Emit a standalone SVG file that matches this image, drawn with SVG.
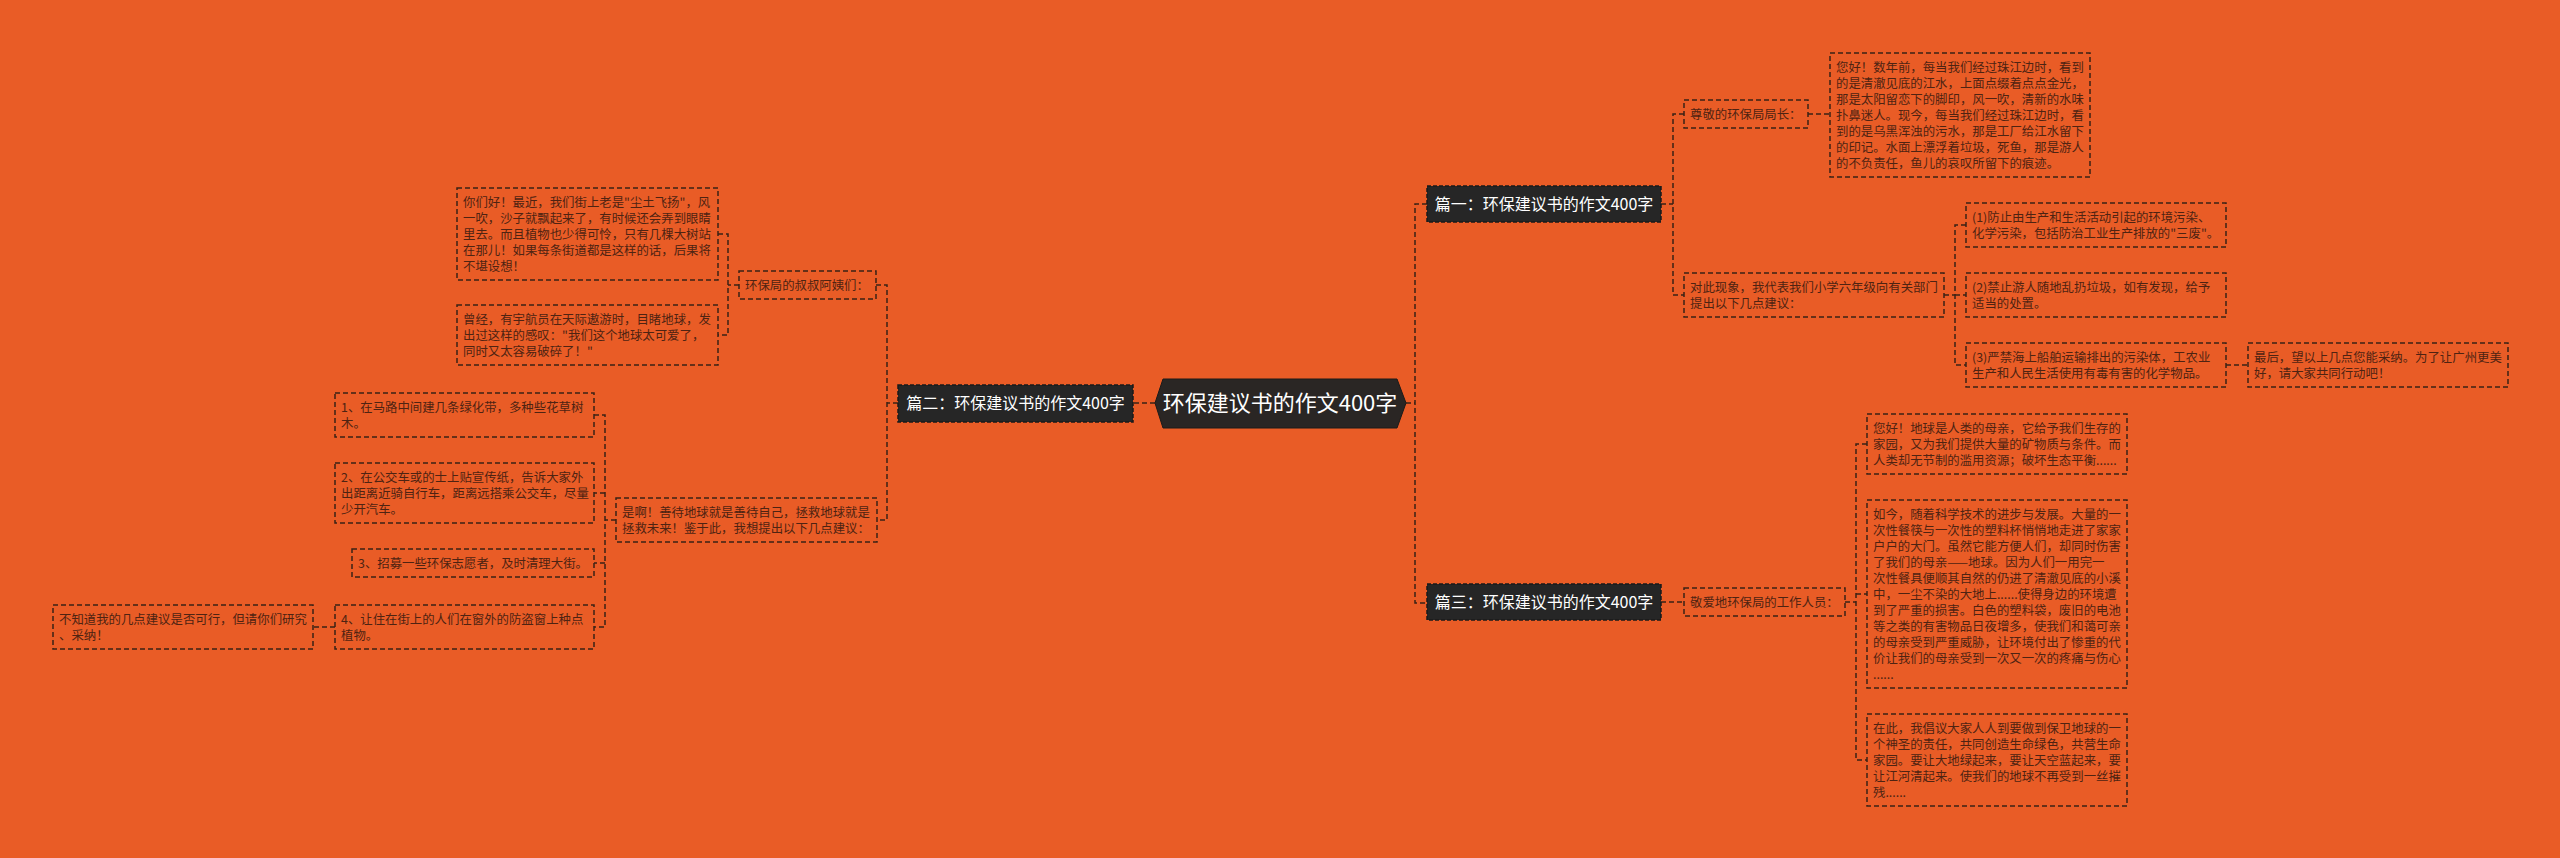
<svg xmlns="http://www.w3.org/2000/svg" width="2560" height="858" viewBox="0 0 2560 858">
<style>
.bg{fill:#E95C26}
.conn{fill:none;stroke:#3a2216;stroke-width:1.5;stroke-dasharray:5 3}
.leaf{fill:none;stroke:#3a2216;stroke-width:1.5;stroke-dasharray:5 3}
.lt{font-family:"Noto Sans CJK SC","Noto Sans",sans-serif;font-size:12.4px;fill:#4e2312}
.br{fill:#262626;stroke:#1a1a1a;stroke-width:1.5;stroke-dasharray:4 2}
.bt{font-family:"Noto Sans CJK SC","Noto Sans",sans-serif;font-size:16px;fill:#ffffff;text-anchor:middle}
.ct{font-family:"Noto Sans CJK SC","Noto Sans",sans-serif;font-size:22px;fill:#ffffff;text-anchor:middle}
</style>
<rect class="bg" x="0" y="0" width="2560" height="858"/>
<g id="connectors">
<path class="conn" d="M1155,403 H1133"/>
<path class="conn" d="M1406,403 H1415"/>
<path class="conn" d="M1427,204 H1415 V603 H1427"/>
<path class="conn" d="M1661,204 H1673"/>
<path class="conn" d="M1684,114 H1673 V295 H1684"/>
<path class="conn" d="M1808,114 H1830"/>
<path class="conn" d="M1944,295 H1955"/>
<path class="conn" d="M1966,225 H1955 V365 H1966"/>
<path class="conn" d="M1955,295 H1966"/>
<path class="conn" d="M2226,365 H2248"/>
<path class="conn" d="M1661,602 H1684"/>
<path class="conn" d="M1845,602 H1856"/>
<path class="conn" d="M1867,444 H1856 V760 H1867"/>
<path class="conn" d="M1856,594 H1867"/>
<path class="conn" d="M898,403 H887"/>
<path class="conn" d="M876,285 H887 V520 H877"/>
<path class="conn" d="M739,285 H728"/>
<path class="conn" d="M718,234 H728 V335 H718"/>
<path class="conn" d="M616,520 H605"/>
<path class="conn" d="M594,415 H605 V627 H594"/>
<path class="conn" d="M605,493 H594"/>
<path class="conn" d="M605,563 H594"/>
<path class="conn" d="M335,627 H313"/>
</g>
<g id="center">
<polygon points="1155,403 1163,379 1397,379 1406,403 1397,428 1163,428" fill="#2a2624" stroke="#1c1a19" stroke-width="1"/>
<text class="ct" x="1280" y="411">环保建议书的作文400字</text>
</g>
<g id="p1">
<rect class="br" x="1427" y="186" width="234" height="36"/>
<text class="bt" x="1544" y="210">篇一：环保建议书的作文400字</text>
</g>
<g id="p2">
<rect class="br" x="898" y="385" width="235" height="37"/>
<text class="bt" x="1015.5" y="409">篇二：环保建议书的作文400字</text>
</g>
<g id="p3">
<rect class="br" x="1427" y="584" width="234" height="36"/>
<text class="bt" x="1544" y="608">篇三：环保建议书的作文400字</text>
</g>
<g id="r1">
<rect class="leaf" x="1684" y="100" width="124" height="28"/>
<text class="lt" x="1690" y="119">尊敬的环保局局长：</text>
</g>
<g id="r2">
<rect class="leaf" x="1830" y="53" width="260" height="124"/>
<text class="lt" x="1836" y="72">您好！数年前，每当我们经过珠江边时，看到</text>
<text class="lt" x="1836" y="88">的是清澈见底的江水，上面点缀着点点金光，</text>
<text class="lt" x="1836" y="104">那是太阳留恋下的脚印，风一吹，清新的水味</text>
<text class="lt" x="1836" y="120">扑鼻迷人。现今，每当我们经过珠江边时，看</text>
<text class="lt" x="1836" y="136">到的是乌黑浑浊的污水，那是工厂给江水留下</text>
<text class="lt" x="1836" y="152">的印记。水面上漂浮着垃圾，死鱼，那是游人</text>
<text class="lt" x="1836" y="168">的不负责任，鱼儿的哀叹所留下的痕迹。</text>
</g>
<g id="r3">
<rect class="leaf" x="1684" y="273" width="260" height="44"/>
<text class="lt" x="1690" y="292">对此现象，我代表我们小学六年级向有关部门</text>
<text class="lt" x="1690" y="308">提出以下几点建议：</text>
</g>
<g id="r4">
<rect class="leaf" x="1966" y="203" width="260" height="44"/>
<text class="lt" x="1972" y="222">(1)防止由生产和生活活动引起的环境污染、</text>
<text class="lt" x="1972" y="238">化学污染，包括防治工业生产排放的"三废"。</text>
</g>
<g id="r5">
<rect class="leaf" x="1966" y="273" width="260" height="44"/>
<text class="lt" x="1972" y="292">(2)禁止游人随地乱扔垃圾，如有发现，给予</text>
<text class="lt" x="1972" y="308">适当的处置。</text>
</g>
<g id="r6">
<rect class="leaf" x="1966" y="343" width="260" height="44"/>
<text class="lt" x="1972" y="362">(3)严禁海上船舶运输排出的污染体，工农业</text>
<text class="lt" x="1972" y="378">生产和人民生活使用有毒有害的化学物品。</text>
</g>
<g id="r7">
<rect class="leaf" x="2248" y="343" width="260" height="44"/>
<text class="lt" x="2254" y="362">最后，望以上几点您能采纳。为了让广州更美</text>
<text class="lt" x="2254" y="378">好，请大家共同行动吧！</text>
</g>
<g id="r8">
<rect class="leaf" x="1684" y="588" width="161" height="28"/>
<text class="lt" x="1690" y="607">敬爱地环保局的工作人员：</text>
</g>
<g id="r9">
<rect class="leaf" x="1867" y="414" width="260" height="60"/>
<text class="lt" x="1873" y="433">您好！地球是人类的母亲，它给予我们生存的</text>
<text class="lt" x="1873" y="449">家园，又为我们提供大量的矿物质与条件。而</text>
<text class="lt" x="1873" y="465">人类却无节制的滥用资源；破坏生态平衡......</text>
</g>
<g id="r10">
<rect class="leaf" x="1867" y="500" width="260" height="188"/>
<text class="lt" x="1873" y="519">如今，随着科学技术的进步与发展。大量的一</text>
<text class="lt" x="1873" y="535">次性餐筷与一次性的塑料杯悄悄地走进了家家</text>
<text class="lt" x="1873" y="551">户户的大门。虽然它能方便人们，却同时伤害</text>
<text class="lt" x="1873" y="567">了我们的母亲——地球。因为人们一用完一</text>
<text class="lt" x="1873" y="583">次性餐具便顺其自然的仍进了清澈见底的小溪</text>
<text class="lt" x="1873" y="599">中，一尘不染的大地上......使得身边的环境遭</text>
<text class="lt" x="1873" y="615">到了严重的损害。白色的塑料袋，废旧的电池</text>
<text class="lt" x="1873" y="631">等之类的有害物品日夜增多，使我们和蔼可亲</text>
<text class="lt" x="1873" y="647">的母亲受到严重威胁，让环境付出了惨重的代</text>
<text class="lt" x="1873" y="663">价让我们的母亲受到一次又一次的疼痛与伤心</text>
<text class="lt" x="1873" y="679">......</text>
</g>
<g id="r11">
<rect class="leaf" x="1867" y="714" width="260" height="92"/>
<text class="lt" x="1873" y="733">在此，我倡议大家人人到要做到保卫地球的一</text>
<text class="lt" x="1873" y="749">个神圣的责任，共同创造生命绿色，共营生命</text>
<text class="lt" x="1873" y="765">家园。要让大地绿起来，要让天空蓝起来，要</text>
<text class="lt" x="1873" y="781">让江河清起来。使我们的地球不再受到一丝摧</text>
<text class="lt" x="1873" y="797">残......</text>
</g>
<g id="l1">
<rect class="leaf" x="739" y="271" width="137" height="28"/>
<text class="lt" x="745" y="290">环保局的叔叔阿姨们：</text>
</g>
<g id="l2">
<rect class="leaf" x="457" y="188" width="261" height="92"/>
<text class="lt" x="463" y="207">你们好！最近，我们街上老是"尘土飞扬"，风</text>
<text class="lt" x="463" y="223">一吹，沙子就飘起来了，有时候还会弄到眼睛</text>
<text class="lt" x="463" y="239">里去。而且植物也少得可怜，只有几棵大树站</text>
<text class="lt" x="463" y="255">在那儿！如果每条街道都是这样的话，后果将</text>
<text class="lt" x="463" y="271">不堪设想！</text>
</g>
<g id="l3">
<rect class="leaf" x="457" y="305" width="261" height="60"/>
<text class="lt" x="463" y="324">曾经，有宇航员在天际遨游时，目睹地球，发</text>
<text class="lt" x="463" y="340">出过这样的感叹："我们这个地球太可爱了，</text>
<text class="lt" x="463" y="356">同时又太容易破碎了！"</text>
</g>
<g id="l4">
<rect class="leaf" x="616" y="498" width="261" height="44"/>
<text class="lt" x="622" y="517">是啊！善待地球就是善待自己，拯救地球就是</text>
<text class="lt" x="622" y="533">拯救未来！鉴于此，我想提出以下几点建议：</text>
</g>
<g id="l5">
<rect class="leaf" x="335" y="393" width="259" height="44"/>
<text class="lt" x="341" y="412">1、在马路中间建几条绿化带，多种些花草树</text>
<text class="lt" x="341" y="428">木。</text>
</g>
<g id="l6">
<rect class="leaf" x="335" y="463" width="259" height="60"/>
<text class="lt" x="341" y="482">2、在公交车或的士上贴宣传纸，告诉大家外</text>
<text class="lt" x="341" y="498">出距离近骑自行车，距离远搭乘公交车，尽量</text>
<text class="lt" x="341" y="514">少开汽车。</text>
</g>
<g id="l7">
<rect class="leaf" x="352" y="549" width="242" height="28"/>
<text class="lt" x="358" y="568">3、招募一些环保志愿者，及时清理大街。</text>
</g>
<g id="l8">
<rect class="leaf" x="335" y="605" width="259" height="44"/>
<text class="lt" x="341" y="624">4、让住在街上的人们在窗外的防盗窗上种点</text>
<text class="lt" x="341" y="640">植物。</text>
</g>
<g id="l9">
<rect class="leaf" x="53" y="605" width="260" height="44"/>
<text class="lt" x="59" y="624">不知道我的几点建议是否可行，但请你们研究</text>
<text class="lt" x="59" y="640">、采纳！</text>
</g>
</svg>
